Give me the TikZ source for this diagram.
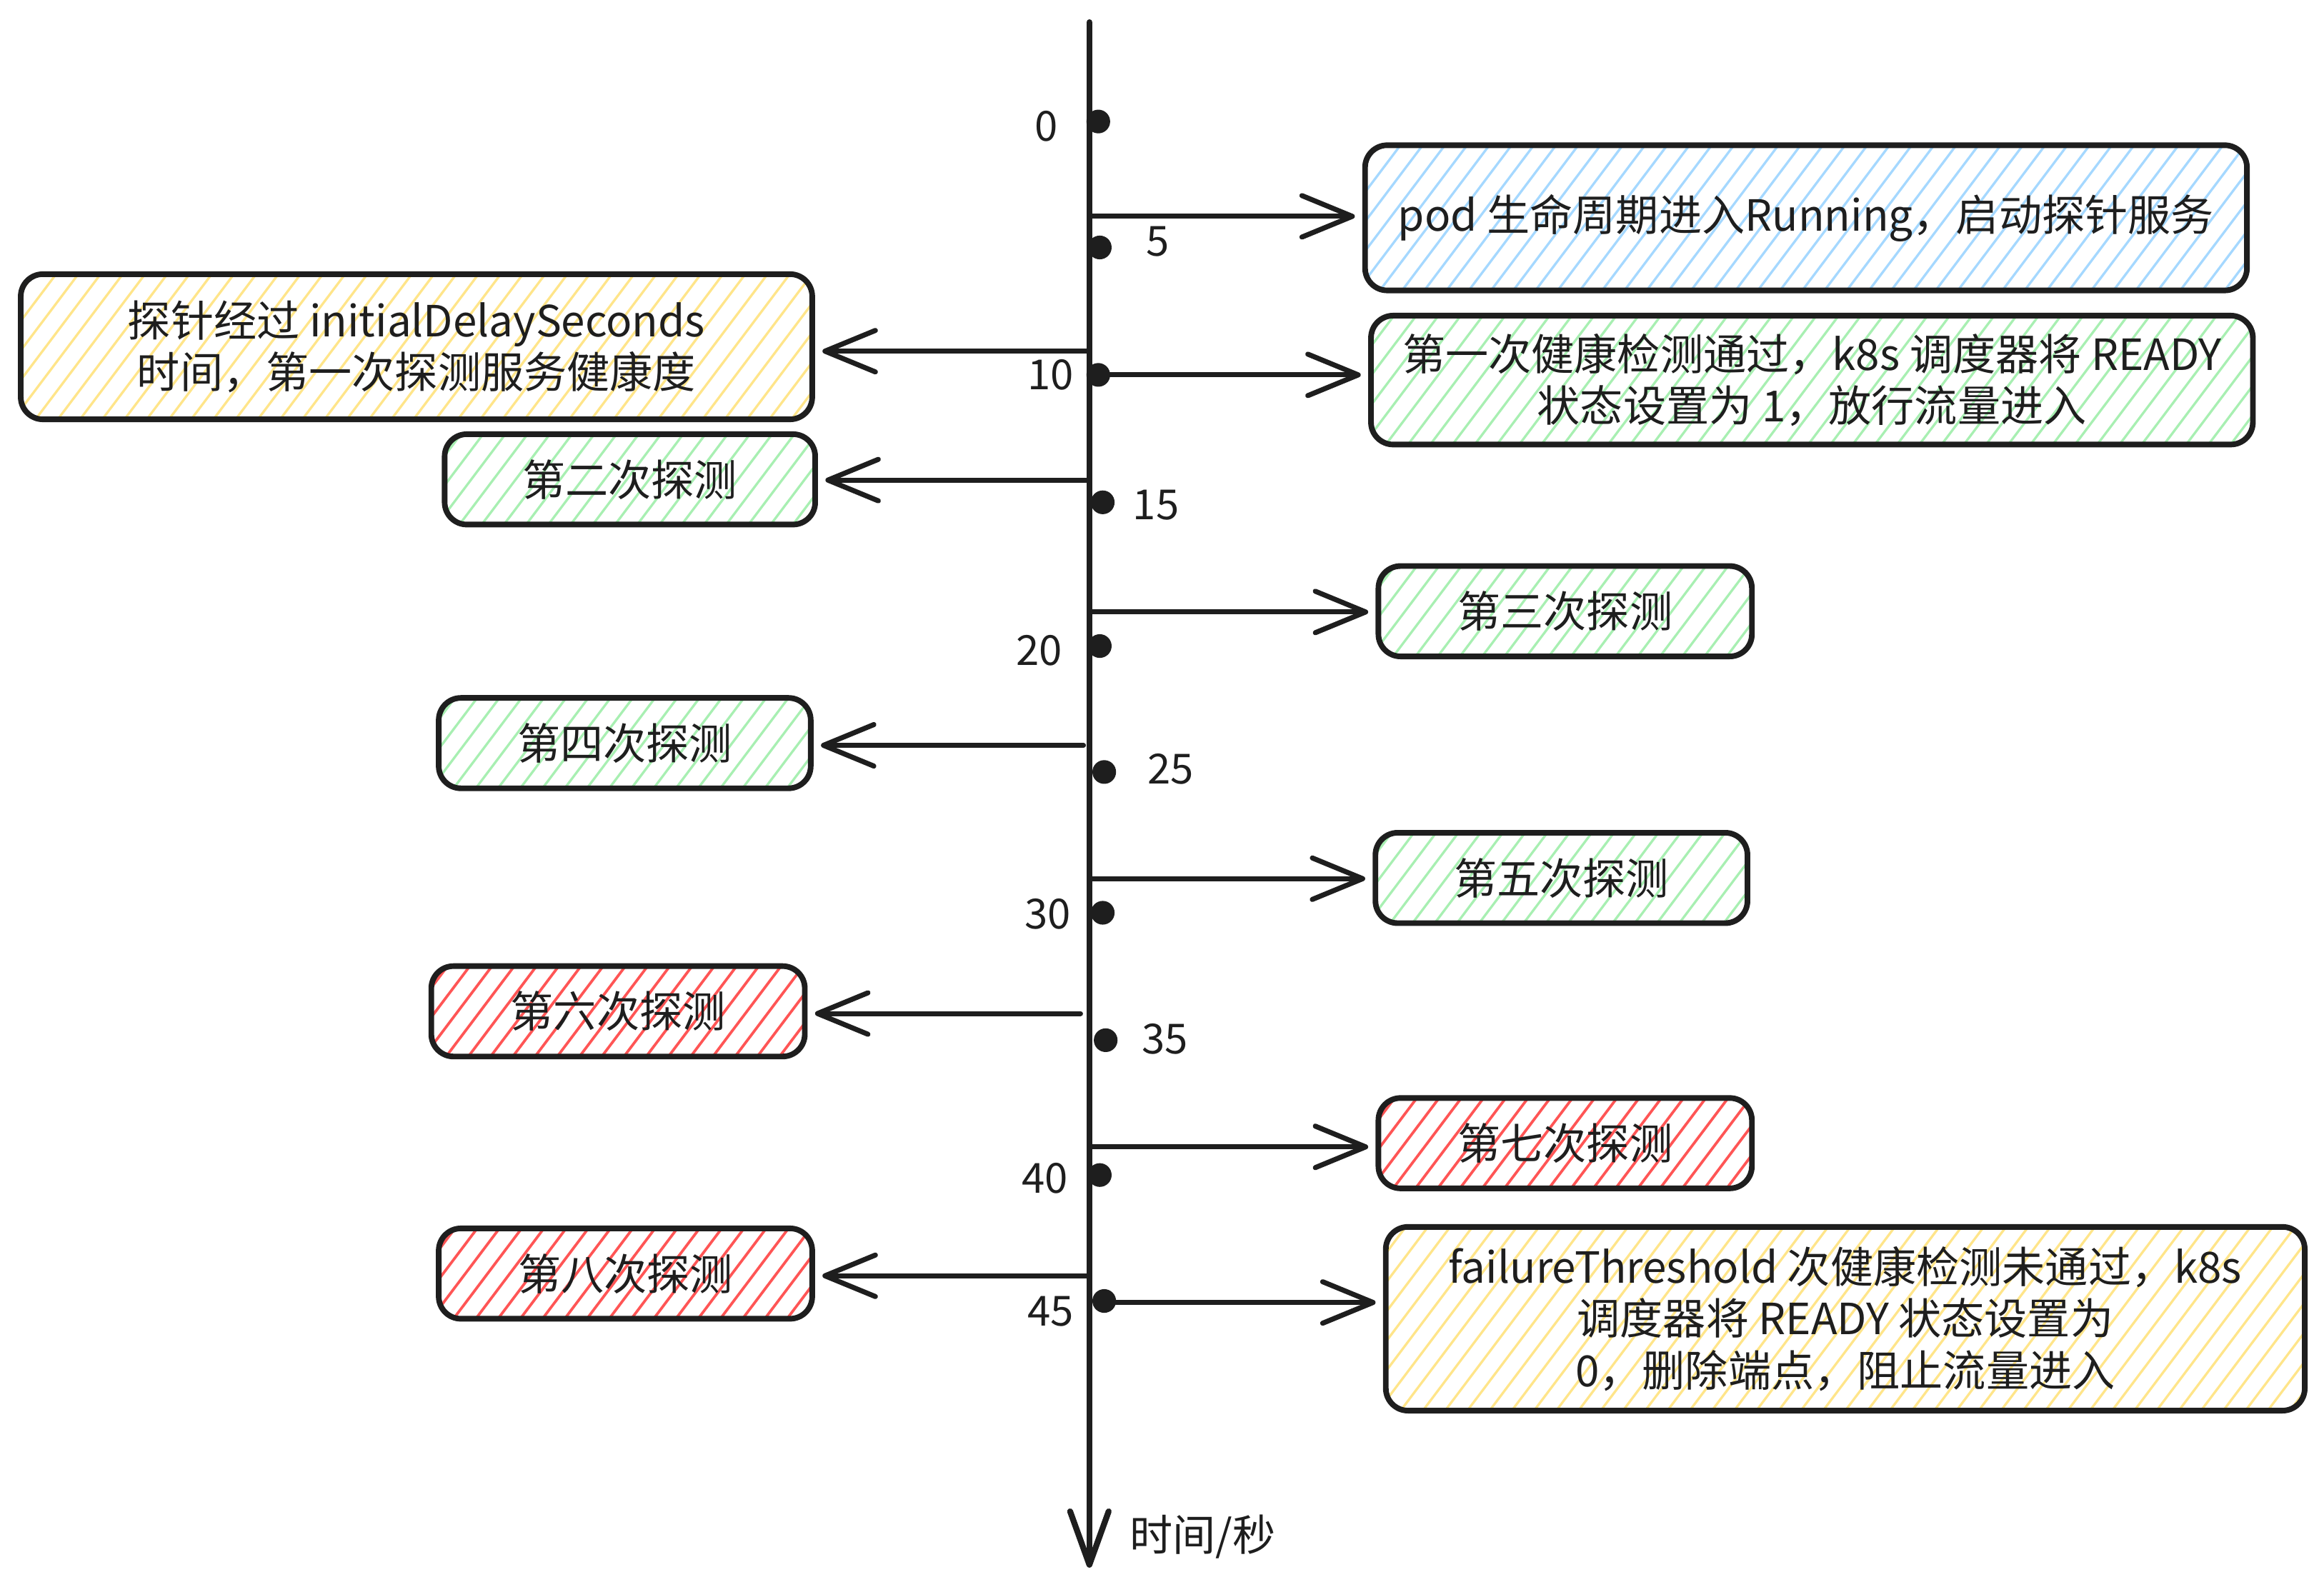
\documentclass[tikz,border=0pt]{standalone}
\usepackage{fontspec}
\setmainfont{Noto Sans CJK SC}
\usetikzlibrary{arrows.meta}
\definecolor{ink}{HTML}{1E1E1E}
\definecolor{hblue}{HTML}{A5D8FF}
\definecolor{hyellow}{HTML}{FFE58A}
\definecolor{hgreen}{HTML}{A8EFB2}
\definecolor{hred}{HTML}{FF5555}
\tikzset{
  box/.style={draw=ink, line width=3.8pt, rounded corners=15pt, align=center,
    inner sep=0pt, font=\fontsize{29}{35}\selectfont, text=ink},
  hatch/.style 2 args={path picture={
    \foreach \xo in {-140,-125,...,660}{
      \draw[#1, line width=#2] ([xshift=\xo pt]path picture bounding box.south west) -- ++(53:230pt);}}},
  bluebox/.style={box, hatch={hblue}{1.6pt}},
  yellowbox/.style={box, hatch={hyellow}{1.6pt}},
  greenbox/.style={box, hatch={hgreen}{1.6pt}},
  redbox/.style={box, hatch={hred}{1.8pt}},
  num/.style={font=\fontsize{28}{30}\selectfont, text=ink, inner sep=0pt},
  dot/.style={circle, fill=ink, minimum size=16pt, inner sep=0pt},
  arr/.style={draw=ink, line width=3.4pt, line cap=round,
    -{Straight Barb[length=34pt,width=28pt,round]}, shorten >=5pt},
  axis/.style={draw=ink, line width=4pt, line cap=round,
    -{Straight Barb[length=36pt,width=26pt,round]}}
}
\begin{document}
\begin{tikzpicture}[x=1pt,y=-1pt]
\useasboundingbox (0,0) rectangle (1568,1074);
% axis
\coordinate (top) at (735,15);
\coordinate (bot) at (735,1058);
\draw[axis] (top) -- (bot);
\node[font=\fontsize{29}{30}\selectfont, text=ink, anchor=west, inner sep=0pt] (unit) at (762,1037) {时间/秒};
% dots
\node[dot] (d0)  at (741,82)  {};
\node[dot] (d5)  at (742,167) {};
\node[dot] (d10) at (741,253) {};
\node[dot] (d15) at (744,339) {};
\node[dot] (d20) at (742,436) {};
\node[dot] (d25) at (745,521) {};
\node[dot] (d30) at (744,616) {};
\node[dot] (d35) at (746,702) {};
\node[dot] (d40) at (742,793) {};
\node[dot] (d45) at (745,878) {};
% numbers
\node[num] (n0)  at (706,85)  {0};
\node[num] (n5)  at (781,163) {5};
\node[num] (n10) at (709,253) {10};
\node[num] (n15) at (780,341) {15};
\node[num] (n20) at (701,439) {20};
\node[num] (n25) at (790,519) {25};
\node[num] (n30) at (707,617) {30};
\node[num] (n35) at (786,701) {35};
\node[num] (n40) at (705,795) {40};
\node[num] (n45) at (709,885) {45};
% boxes
\node[bluebox, minimum width=595pt, minimum height=98pt] (b1) at (1218.5,147)
  {pod 生命周期进入Running，启动探针服务};
\node[yellowbox, minimum width=534pt, minimum height=98pt] (y1) at (281,234)
  {探针经过 initialDelaySeconds\\时间，第一次探测服务健康度};
\node[greenbox, minimum width=595pt, minimum height=87pt] (g1) at (1222.5,256.5)
  {第一次健康检测通过，k8s 调度器将 READY\\状态设置为 1，放行流量进入};
\node[greenbox, minimum width=250pt, minimum height=61pt] (p2) at (425,323.5) {第二次探测};
\node[greenbox, minimum width=252pt, minimum height=61pt] (p3) at (1056,412.5) {第三次探测};
\node[greenbox, minimum width=251pt, minimum height=61pt] (p4) at (421.5,501.5) {第四次探测};
\node[greenbox, minimum width=251pt, minimum height=61pt] (p5) at (1053.5,592.5) {第五次探测};
\node[redbox, minimum width=252pt, minimum height=61pt] (p6) at (417,682.5) {第六次探测};
\node[redbox, minimum width=252pt, minimum height=61pt] (p7) at (1056,771.5) {第七次探测};
\node[redbox, minimum width=252pt, minimum height=61pt] (p8) at (422,859.5) {第八次探测};
\node[yellowbox, minimum width=620pt, minimum height=124pt] (y2) at (1245,890)
  {failureThreshold 次健康检测未通过，k8s\\调度器将 READY 状态设置为\\0，删除端点，阻止流量进入};
% arrow starts
\coordinate (s1) at (735,146);
\coordinate (s2) at (733,237);
\coordinate (s3) at (741,253);
\coordinate (s4) at (733,324);
\coordinate (s5) at (735,413);
\coordinate (s6) at (731,503);
\coordinate (s7) at (735,593);
\coordinate (s8) at (729,684);
\coordinate (s9) at (735,774);
\coordinate (s10) at (733,861);
\coordinate (s11) at (745,879);
% connectors
\draw[arr] (s1) -- (s1 -| b1.west);
\draw[arr] (s2) -- (s2 -| y1.east);
\draw[arr] (s3) -- (s3 -| g1.west);
\draw[arr] (s4) -- (s4 -| p2.east);
\draw[arr] (s5) -- (s5 -| p3.west);
\draw[arr] (s6) -- (s6 -| p4.east);
\draw[arr] (s7) -- (s7 -| p5.west);
\draw[arr] (s8) -- (s8 -| p6.east);
\draw[arr] (s9) -- (s9 -| p7.west);
\draw[arr] (s10) -- (s10 -| p8.east);
\draw[arr] (s11) -- (s11 -| y2.west);
\end{tikzpicture}
\end{document}
